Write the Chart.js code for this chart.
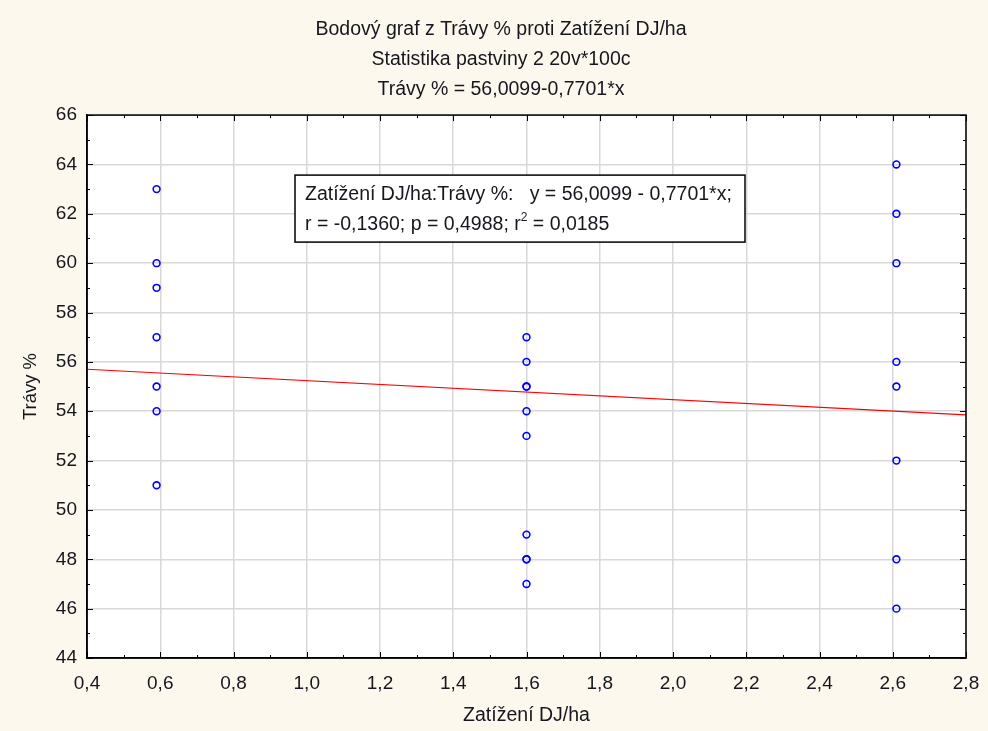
<!DOCTYPE html>
<html>
<head>
<meta charset="utf-8">
<script src="https://cdn.jsdelivr.net/npm/chart.js@4/dist/chart.umd.min.js"></script>
<style>
  html, body { margin: 0; padding: 0; background: #fdf8ee; }
  #wrap { width: 988px; height: 731px; }
</style>
</head>
<body>
<div id="wrap"><canvas id="c" width="988" height="731"></canvas></div>
<script>
// ---- data ----
const titleLines = [
  'Bodový graf z Trávy % proti Zatížení DJ/ha',
  'Statistika pastviny 2 20v*100c',
  'Trávy % = 56,0099-0,7701*x'
];
const xAxisTitle = 'Zatížení DJ/ha';
const yAxisTitle = 'Trávy %';
const loadLevels = [0.59, 1.6, 2.61];
const grassAtLow = [63, 60, 59, 57, 55, 54, 51];
const grassAtMid = [57, 56, 55, 55, 54, 53, 49, 48, 48, 47];
const grassAtHigh = [64, 62, 60, 56, 55, 52, 48, 46];
const fitIntercept = 56.0099;
const fitSlope = -0.7701;
const xMin = 0.4, xMax = 2.8, xStep = 0.2;
const yMin = 44, yMax = 66, yStep = 2;
const boxLine1 = 'Zatížení DJ/ha:Trávy %:   y = 56,0099 - 0,7701*x;';
const boxLine2a = 'r = -0,1360; p = 0,4988; r';
const boxLine2sup = '2';
const boxLine2b = ' = 0,0185';

// ---- build points ----
const points = [];
[grassAtLow, grassAtMid, grassAtHigh].forEach((arr, i) => {
  arr.forEach(v => points.push({ x: loadLevels[i], y: v }));
});
const fitLine = [
  { x: xMin, y: fitIntercept + fitSlope * xMin },
  { x: xMax, y: fitIntercept + fitSlope * xMax }
];

const FONT = "'Liberation Sans', Arial, sans-serif";
const TXT = '#16161e';
const fmt = v => Number(v).toFixed(1).replace('.', ',');

const titleShift = {
  id: 'titleShift',
  afterLayout(chart) {
    const t = chart.titleBlock;
    if (t) { t.left = 14; t.right = chart.width; }
  }
};

const framePlugin = {
  id: 'frame',
  afterDraw(chart) {
    const { ctx, chartArea: a, scales } = chart;
    const xs = scales.x, ys = scales.y;
    ctx.save();
    // frame
    ctx.strokeStyle = '#000';
    ctx.lineWidth = 1.5;
    ctx.strokeRect(a.left, a.top, a.right - a.left, a.bottom - a.top);
    // inward ticks
    ctx.lineWidth = 1;
    ctx.beginPath();
    for (let i = 0; i * yStep / 2 <= (yMax - yMin) + 1e-9; i++) {
      const v = yMin + i * yStep / 2;
      const p = Math.round(ys.getPixelForValue(v)) + 0.5;
      const len = i % 2 === 0 ? 6 : 3;
      ctx.moveTo(a.left, p); ctx.lineTo(a.left + len, p);
      ctx.moveTo(a.right, p); ctx.lineTo(a.right - len, p);
    }
    for (let i = 0; i * xStep / 2 <= (xMax - xMin) + 1e-9; i++) {
      const v = xMin + i * xStep / 2;
      const p = Math.round(xs.getPixelForValue(v)) + 0.5;
      const len = i % 2 === 0 ? 6 : 3;
      ctx.moveTo(p, a.bottom); ctx.lineTo(p, a.bottom - len);
      ctx.moveTo(p, a.top); ctx.lineTo(p, a.top + len);
    }
    ctx.stroke();

    // equation box
    const bx = a.left + 208, by = a.top + 60, bw = 450, bh = 67;
    ctx.fillStyle = '#fff';
    ctx.fillRect(bx, by, bw, bh);
    ctx.strokeStyle = '#000';
    ctx.lineWidth = 1.5;
    ctx.strokeRect(bx, by, bw, bh);
    ctx.fillStyle = TXT;
    ctx.font = '19.5px ' + FONT;
    ctx.textBaseline = 'middle';
    ctx.textAlign = 'left';
    ctx.fillText(boxLine1, bx + 10, by + 20);
    ctx.fillText(boxLine2a, bx + 10, by + 50);
    let w = ctx.measureText(boxLine2a).width;
    ctx.font = '12px ' + FONT;
    ctx.fillText(boxLine2sup, bx + 10 + w, by + 43);
    const w2 = ctx.measureText(boxLine2sup).width;
    ctx.font = '19.5px ' + FONT;
    ctx.fillText(boxLine2b, bx + 10 + w + w2, by + 50);
    ctx.restore();
  }
};

const bgPlugin = {
  id: 'bg',
  beforeDraw(chart) {
    const { ctx, chartArea: a } = chart;
    ctx.save();
    ctx.fillStyle = '#fdf8ee';
    ctx.fillRect(0, 0, chart.width, chart.height);
    ctx.fillStyle = '#ffffff';
    ctx.fillRect(a.left, a.top, a.right - a.left, a.bottom - a.top);
    ctx.restore();
  }
};

new Chart(document.getElementById('c'), {
  type: 'scatter',
  data: {
    datasets: [
      {
        label: 'fit',
        type: 'line',
        data: fitLine,
        borderColor: '#ff0000',
        borderWidth: 1.2,
        pointRadius: 0,
        fill: false,
        order: 2
      },
      {
        label: yAxisTitle,
        data: points,
        borderColor: '#0000ff',
        backgroundColor: 'rgba(0,0,0,0)',
        pointRadius: 3.4,
        pointBorderWidth: 1.6,
        order: 1
      }
    ]
  },
  options: {
    responsive: false,
    animation: false,
    devicePixelRatio: 1,
    layout: { padding: { left: 0, right: 22, top: 0, bottom: 0 } },
    plugins: {
      legend: { display: false },
      tooltip: { enabled: false },
      title: {
        display: true,
        text: titleLines,
        color: TXT,
        font: { family: FONT, size: 19.5, weight: 'normal', lineHeight: 1.54 },
        padding: { top: 15, bottom: 10 }
      }
    },
    scales: {
      x: {
        type: 'linear',
        min: xMin, max: xMax,
        afterFit(s) { s.height = 73; s.paddingRight = 0; s.paddingLeft = 0; },
        ticks: {
          stepSize: xStep,
          callback: v => fmt(v),
          color: TXT,
          font: { family: FONT, size: 19 },
          padding: 14,
          maxRotation: 0
        },
        grid: { color: '#d8d8d8', lineWidth: 1.5, drawTicks: false },
        border: { display: true, color: '#000', width: 1.5 },
        title: {
          display: true, text: xAxisTitle, color: TXT,
          font: { family: FONT, size: 19.5 },
          padding: { top: 0, bottom: 4 }
        }
      },
      y: {
        type: 'linear',
        min: yMin, max: yMax,
        afterFit(s) { s.width = 87; },
        ticks: {
          stepSize: yStep,
          callback: v => String(v),
          color: TXT,
          font: { family: FONT, size: 19 },
          padding: 10
        },
        grid: { color: '#d8d8d8', lineWidth: 1.5, drawTicks: false },
        border: { display: true, color: '#000', width: 1.5 },
        title: {
          display: true, text: yAxisTitle, color: TXT,
          font: { family: FONT, size: 18.5 },
          padding: { top: 20, bottom: 0 }
        }
      }
    }
  },
  plugins: [bgPlugin, titleShift, framePlugin]
});
</script>
</body>
</html>
